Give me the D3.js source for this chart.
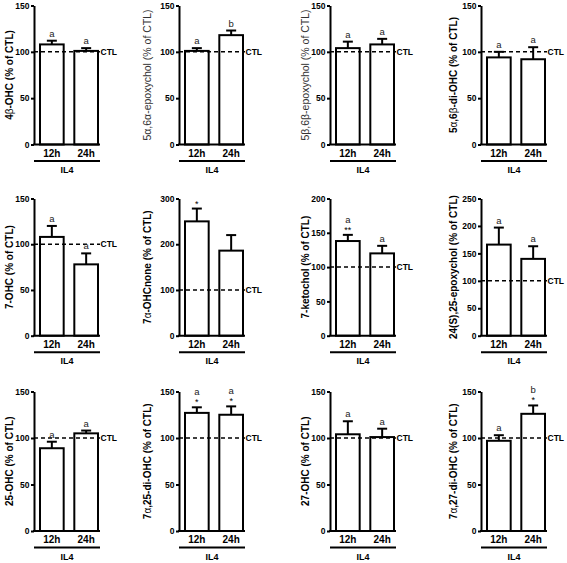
<!DOCTYPE html>
<html><head><meta charset="utf-8">
<script src="https://cdn.jsdelivr.net/npm/d3@7"></script>
<style>
html,body{margin:0;padding:0;background:#fff;}
svg{display:block;font-family:"Liberation Sans",Arial,sans-serif;}
</style></head>
<body>
<script>
// ---- data ----
const times = ["12h", "24h"];
const treatment = "IL4";
const titlePre = ["4","5","5","5","7-OHC","7","7-ketochol","24(S),25-epoxychol","25-OHC","7","27-OHC","7"];
const titles = [
  ["4","β","-OHC"],
  ["5","α",",6","α","-epoxychol"],
  ["5","β",",6","β","-epoxychol"],
  ["5","α",",6","β","-di-OHC"],
  ["7-OHC"],
  ["7","α","-OHCnone"],
  ["7-ketochol"],
  ["24(S),25-epoxychol"],
  ["25-OHC"],
  ["7","α",",25-di-OHC"],
  ["27-OHC"],
  ["7","α",",27-di-OHC"]
];
const titleSuffix = " (% of CTL)";
const titleBold = [true,false,false,true,true,true,true,true,true,true,true,true];
const yMax  = [150,150,150,150,150,300,200,250,150,150,150,150];
const yStep = [50,50,50,50,50,100,50,50,50,50,50,50];
const mean12h = [108,101,104,94,108,250,138,166,89,127,104,97];
const sem12h  = [4,3,7,6,12,28,9,31,7,6,14,6];
const mean24h = [101,118,108,92,78,186,120,140,105,125,101,126];
const sem24h  = [3,5,6,13,12,34,11,23,3,9,9,9];
const letters12h = ["a","a","a","a","a","","a","a","a","a","a","a"];
const letters24h = ["a","b","a","a","a","","a","a","a","a","a","b"];
const stars12h = ["","","","","","*","**","","","*","",""];
const stars24h = ["","","","","","","","","","*","","*"];
const ctlValue = 100;
const ctlLabel = "CTL";

// ---- layout ----
const W = 567, H = 563;
const colX = [34, 179, 330, 481];
const rowTop = [5.5, 198.5, 391.5];
const rowBot = [144.5, 335.7, 531];
const titleOff = [-25, -32, -25, -28];
const plotW = 66;

const svg = d3.select("body").append("svg").attr("width", W).attr("height", H);

for (let i = 0; i < 12; i++) {
  const r = Math.floor(i / 4), c = i % 4;
  const ax = colX[c], top = rowTop[r], bot = rowBot[r];
  const g = svg.append("g");
  const y = d3.scaleLinear().domain([0, yMax[i]]).range([bot, top]);
  const x = d3.scaleBand().domain(times).range([ax + 6, ax + 64]).paddingInner(0.31);

  // y axis
  const ya = g.append("g").attr("transform", `translate(${ax},0)`)
    .call(d3.axisLeft(y).tickValues(d3.range(0, yMax[i] + 1, yStep[i])).tickSize(3).tickSizeOuter(0).tickPadding(1.5));
  ya.select(".domain").attr("stroke", "#000").attr("stroke-width", 2);
  ya.selectAll(".tick line").attr("stroke", "#000").attr("stroke-width", 2);
  ya.selectAll(".tick text").attr("font-family", "Liberation Sans, Arial").attr("font-size", 8.5).attr("font-weight", "bold").attr("fill", "#000");

  // bars
  const rows = times.map((t, k) => ({
    t, v: k === 0 ? mean12h[i] : mean24h[i], e: k === 0 ? sem12h[i] : sem24h[i],
    l: k === 0 ? letters12h[i] : letters24h[i], s: k === 0 ? stars12h[i] : stars24h[i]
  }));
  g.selectAll("rect.bar").data(rows).enter().append("rect")
    .attr("x", d => x(d.t)).attr("y", d => y(d.v))
    .attr("width", x.bandwidth()).attr("height", d => bot - y(d.v))
    .attr("fill", "#fff").attr("stroke", "#000").attr("stroke-width", 2);

  // dashed CTL line
  g.append("line").attr("x1", ax).attr("x2", ax + plotW).attr("y1", y(ctlValue)).attr("y2", y(ctlValue))
    .attr("stroke", "#000").attr("stroke-width", 1.5).attr("stroke-dasharray", "4,3");
  g.append("text").attr("x", ax + plotW + 0.5).attr("y", y(ctlValue) + 3.2).text(ctlLabel)
    .attr("font-size", 8.5).attr("font-weight", "bold");

  // error bars
  rows.forEach(d => {
    const cx = x(d.t) + x.bandwidth() / 2;
    g.append("line").attr("x1", cx).attr("x2", cx).attr("y1", y(d.v)).attr("y2", y(d.v + d.e))
      .attr("stroke", "#000").attr("stroke-width", 2);
    g.append("line").attr("x1", cx - 5).attr("x2", cx + 5).attr("y1", y(d.v + d.e)).attr("y2", y(d.v + d.e))
      .attr("stroke", "#000").attr("stroke-width", 2);
    let yy = y(d.v + d.e) - 4;
    if (d.s) {
      g.append("text").attr("x", cx).attr("y", yy + 2).attr("text-anchor", "middle")
        .attr("font-size", 9).text(d.s);
      yy -= 8;
    }
    if (d.l) {
      g.append("text").attr("x", cx).attr("y", yy).attr("text-anchor", "middle")
        .attr("font-size", 9.5).attr("fill", "#222").text(d.l);
    }
  });

  // x axis
  g.append("line").attr("x1", ax - 1).attr("x2", ax + plotW).attr("y1", bot).attr("y2", bot)
    .attr("stroke", "#000").attr("stroke-width", 2);
  const xa = g.append("g").attr("transform", `translate(0,${bot})`)
    .call(d3.axisBottom(x).tickSize(0).tickPadding(5));
  xa.select(".domain").remove();
  xa.selectAll(".tick text").attr("font-family", "Liberation Sans, Arial").attr("font-size", 10).attr("font-weight", "bold").attr("fill", "#000");

  // treatment bracket
  g.append("line").attr("x1", ax).attr("x2", ax + plotW).attr("y1", bot + 16.5).attr("y2", bot + 16.5)
    .attr("stroke", "#000").attr("stroke-width", 2);
  g.append("text").attr("x", ax + plotW / 2).attr("y", bot + 28.5).attr("text-anchor", "middle")
    .attr("font-size", 9).attr("font-weight", "bold").text(treatment);

  // y title
  const tt = g.append("text")
    .attr("transform", `translate(${ax + titleOff[c]},${(top + bot) / 2}) rotate(-90)`)
    .attr("text-anchor", "middle").attr("dy", "0.35em")
    .attr("font-size", titleBold[i] ? 10 : 10.5)
    .attr("font-weight", titleBold[i] ? "bold" : "normal")
    .attr("fill", titleBold[i] ? "#000" : "#333");
  titles[i].forEach(p => {
    const greek = /[αβ]/.test(p);
    tt.append("tspan").attr("font-weight", greek ? "normal" : null).text(p);
  });
  tt.append("tspan").text(titleSuffix);
}
</script>
</body></html>
